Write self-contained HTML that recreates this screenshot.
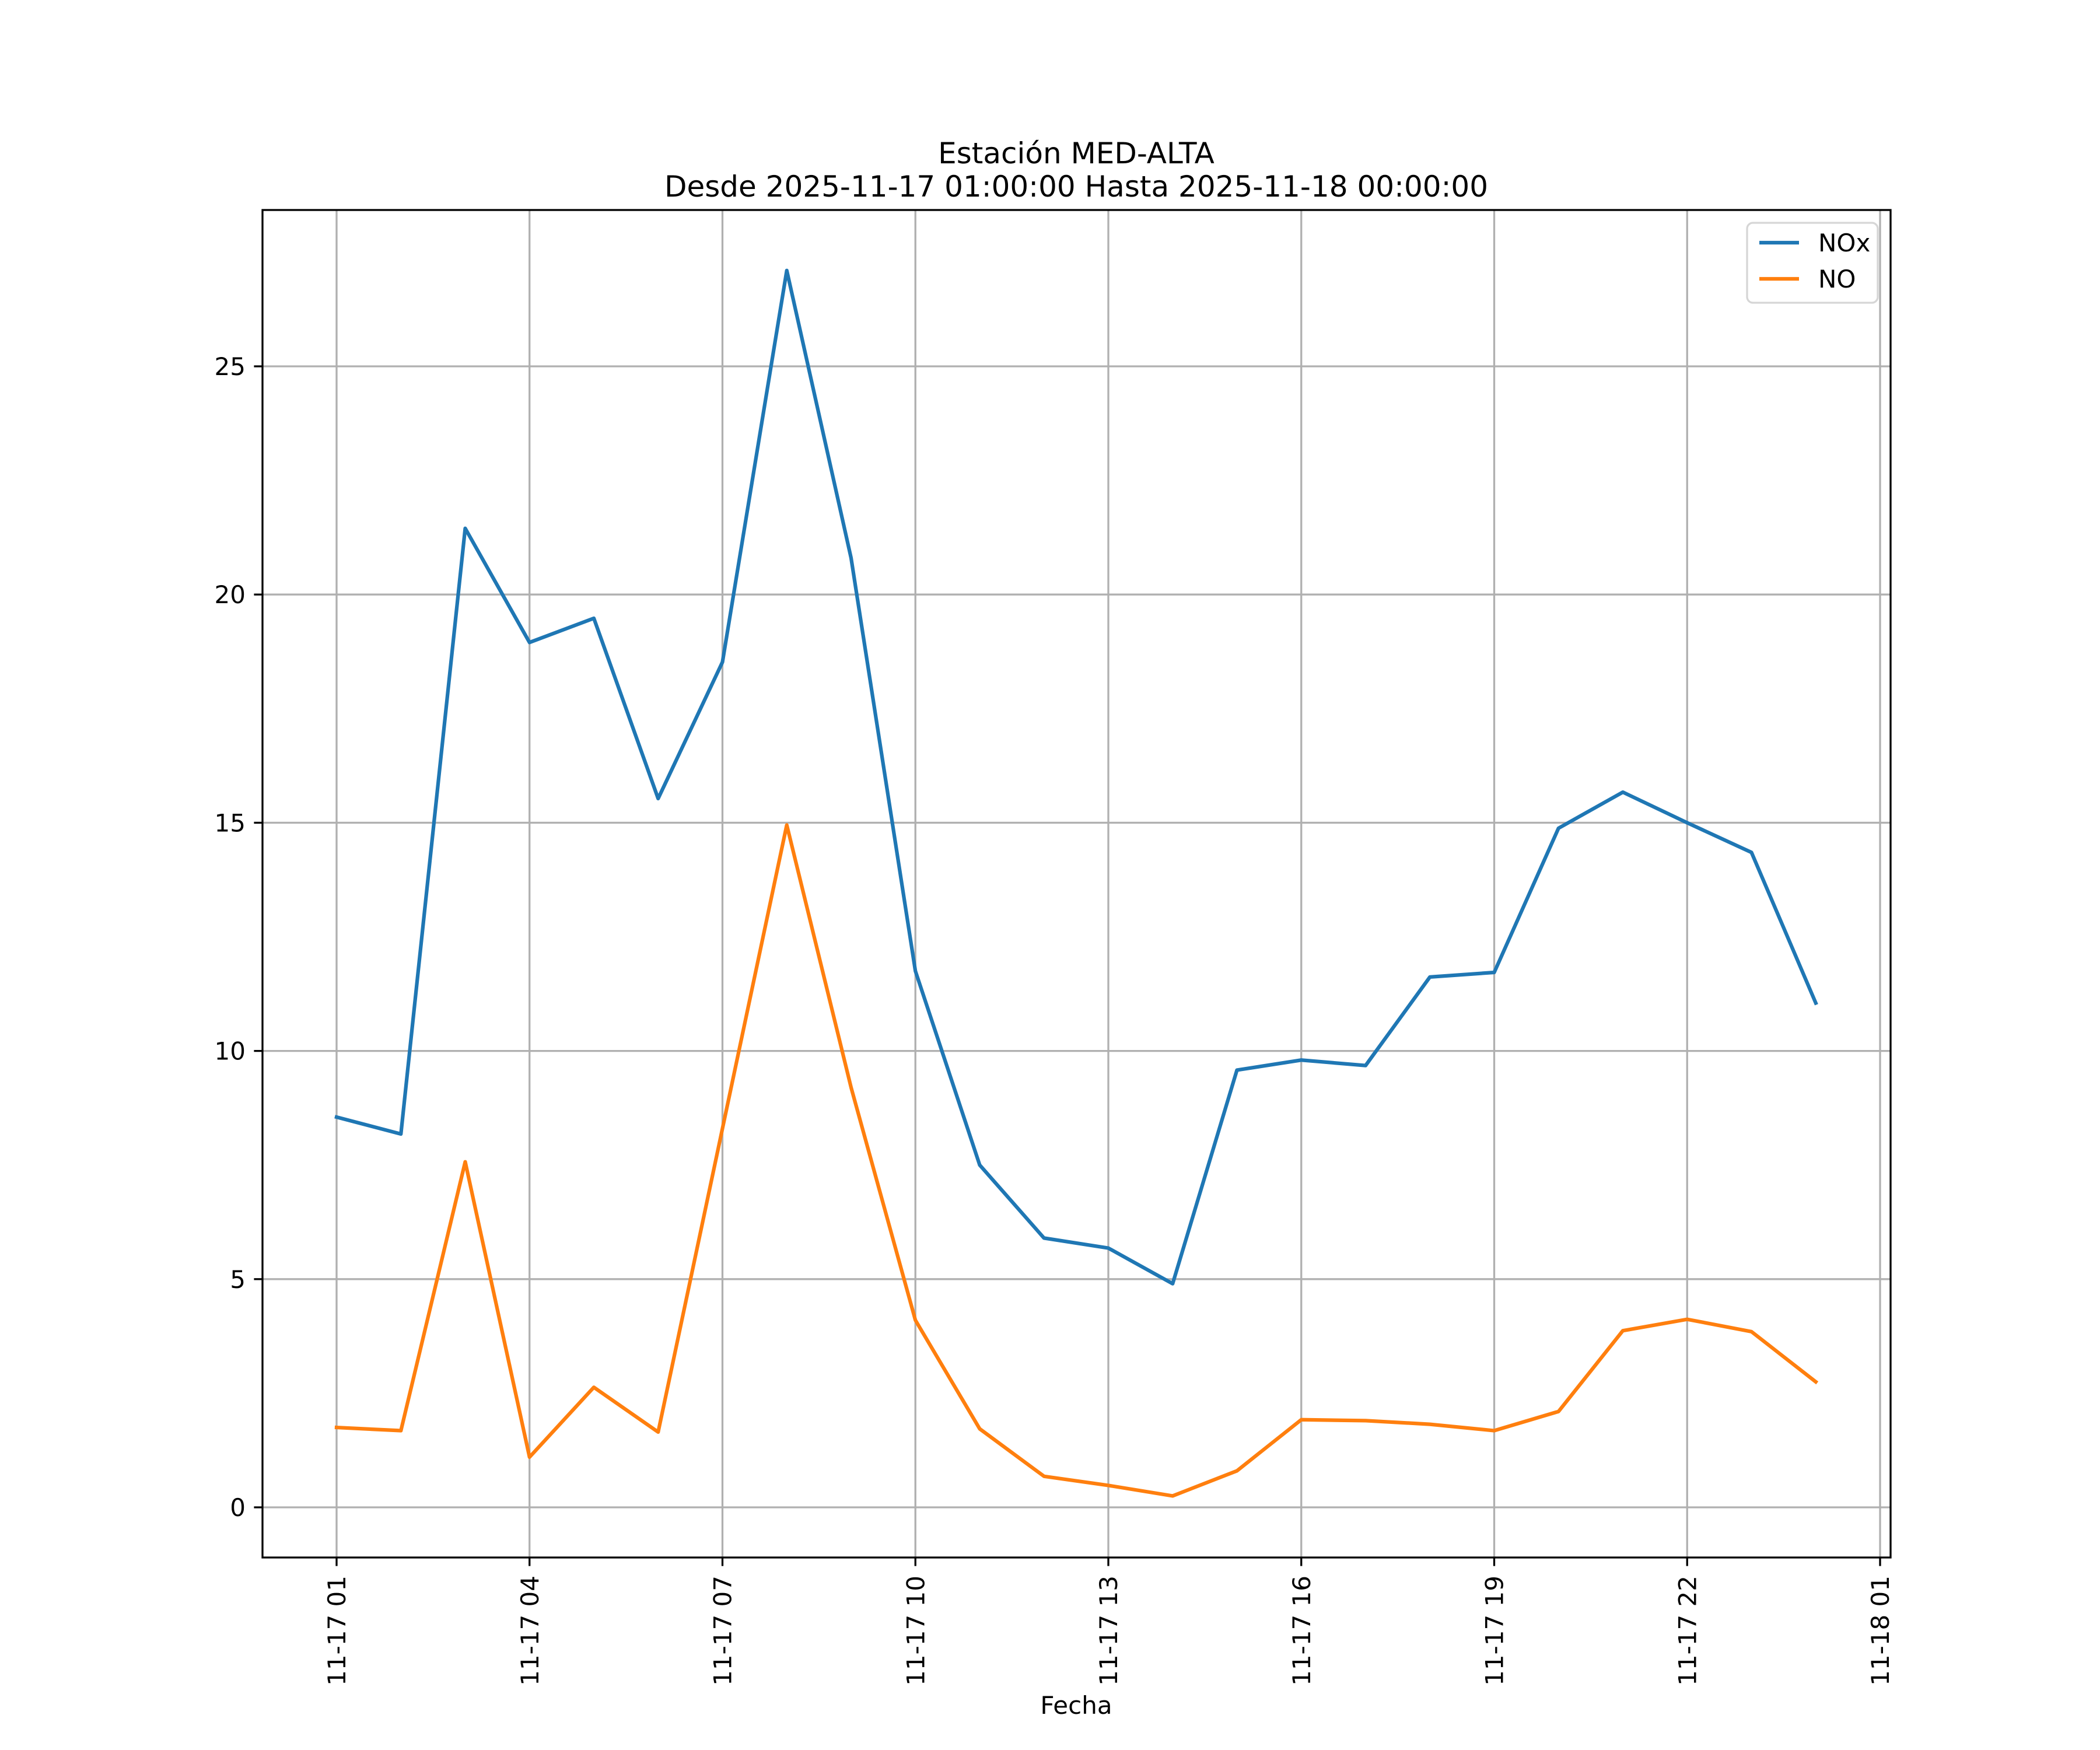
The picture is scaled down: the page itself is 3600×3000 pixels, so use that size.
<!DOCTYPE html>
<html><head><meta charset="utf-8"><style>
html,body{margin:0;padding:0;background:#fff;}
svg{display:block;font-family:"DejaVu Sans","Liberation Sans",sans-serif;}
</style></head><body>
<svg id="chart" width="3600" height="3000" viewBox="0 0 3600 3000" xmlns="http://www.w3.org/2000/svg">
<rect width="3600" height="3000" fill="#fff"/>
<text x="1845" y="280" font-size="50" text-anchor="middle">Estación MED-ALTA</text>
<text x="1845" y="337" font-size="50" text-anchor="middle">Desde 2025-11-17 01:00:00 Hasta 2025-11-18 00:00:00</text>
<g id="grid"></g>
<g id="series"></g>
<rect x="450" y="360" width="2791" height="2310" fill="none" stroke="#000" stroke-width="3.3"/>
<g id="ticks"></g>
<text x="1845" y="2938" font-size="42" text-anchor="middle">Fecha</text>
<g>
<rect x="2995" y="382" width="224" height="137" rx="10" fill="#fff" fill-opacity="0.8" stroke="#d6d6d6" stroke-width="3.3"/>
<line x1="3016" y1="416" x2="3084" y2="416" stroke="#1f77b4" stroke-width="6.25"/>
<text x="3117" y="431" font-size="42">NOx</text>
<line x1="3016" y1="478" x2="3084" y2="478" stroke="#ff7f0e" stroke-width="6.25"/>
<text x="3117" y="493" font-size="42">NO</text>
</g>
</svg>
<script>
const hours = [1,2,3,4,5,6,7,8,9,10,11,12,13,14,15,16,17,18,19,20,21,22,23,24];
const noxValues = [8.55,8.18,21.45,18.95,19.48,15.53,18.52,27.1,20.8,11.75,7.5,5.9,5.68,4.9,9.58,9.8,9.68,11.62,11.72,14.88,15.67,15.0,14.35,11.05];
const noValues = [1.75,1.68,7.57,1.1,2.63,1.65,8.3,14.95,9.2,4.1,1.72,0.68,0.48,0.25,0.8,1.92,1.9,1.82,1.68,2.1,3.87,4.12,3.85,2.75];
const yTicks = [0,5,10,15,20,25];
const xTickHours = [1,4,7,10,13,16,19,22,25];
const xTickLabels = ["11-17 01","11-17 04","11-17 07","11-17 10","11-17 13","11-17 16","11-17 19","11-17 22","11-18 01"];

const NS="http://www.w3.org/2000/svg";
const L=450,R=3241,T=360,B=2670;
function xs(h){return 577+(h-1)*(3223-577)/24;}
function ys(v){return 2584-v*(2584-628)/25;}
function mk(tag,attrs,parent){const e=document.createElementNS(NS,tag);for(const k in attrs)e.setAttribute(k,attrs[k]);parent.appendChild(e);return e;}
const grid=document.getElementById('grid'),ticks=document.getElementById('ticks'),series=document.getElementById('series');
yTicks.forEach(v=>{
  const y=ys(v);
  const g=mk('line',{x1:L,x2:R,y1:y,y2:y,stroke:'#b0b0b0','stroke-width':3.3},grid);
  
  
  const t=mk('line',{x1:L-14.6,x2:L,y1:y,y2:y,stroke:'#000','stroke-width':3.3},ticks);
  
  
  const tx=mk('text',{x:L-29,y:y+15,'font-size':42,'text-anchor':'end'},ticks);
  tx.textContent=String(v);
  
  
});
xTickHours.forEach((h,i)=>{
  const x=xs(h);
  const g=mk('line',{x1:x,x2:x,y1:T,y2:B,stroke:'#b0b0b0','stroke-width':3.3},grid);
  
  
  const t=mk('line',{x1:x,x2:x,y1:B,y2:B+14.6,stroke:'#000','stroke-width':3.3},ticks);
  
  
  const tx=mk('text',{x:0,y:0,'font-size':42,'text-anchor':'end',transform:`translate(${x+15},${B+31}) rotate(-90)`},ticks);
  tx.textContent=xTickLabels[i];
  
  
});
function drawLine(vals,color,name){
  const pts=vals.map((v,i)=>xs(hours[i])+','+ys(v)).join(' ');
  const p=mk('polyline',{points:pts,fill:'none',stroke:color,'stroke-width':6.25,'stroke-linejoin':'round','stroke-linecap':'square'},series);
  
  
}
drawLine(noxValues,'#1f77b4','nox-line');
drawLine(noValues,'#ff7f0e','no-line');
</script>
</body></html>
